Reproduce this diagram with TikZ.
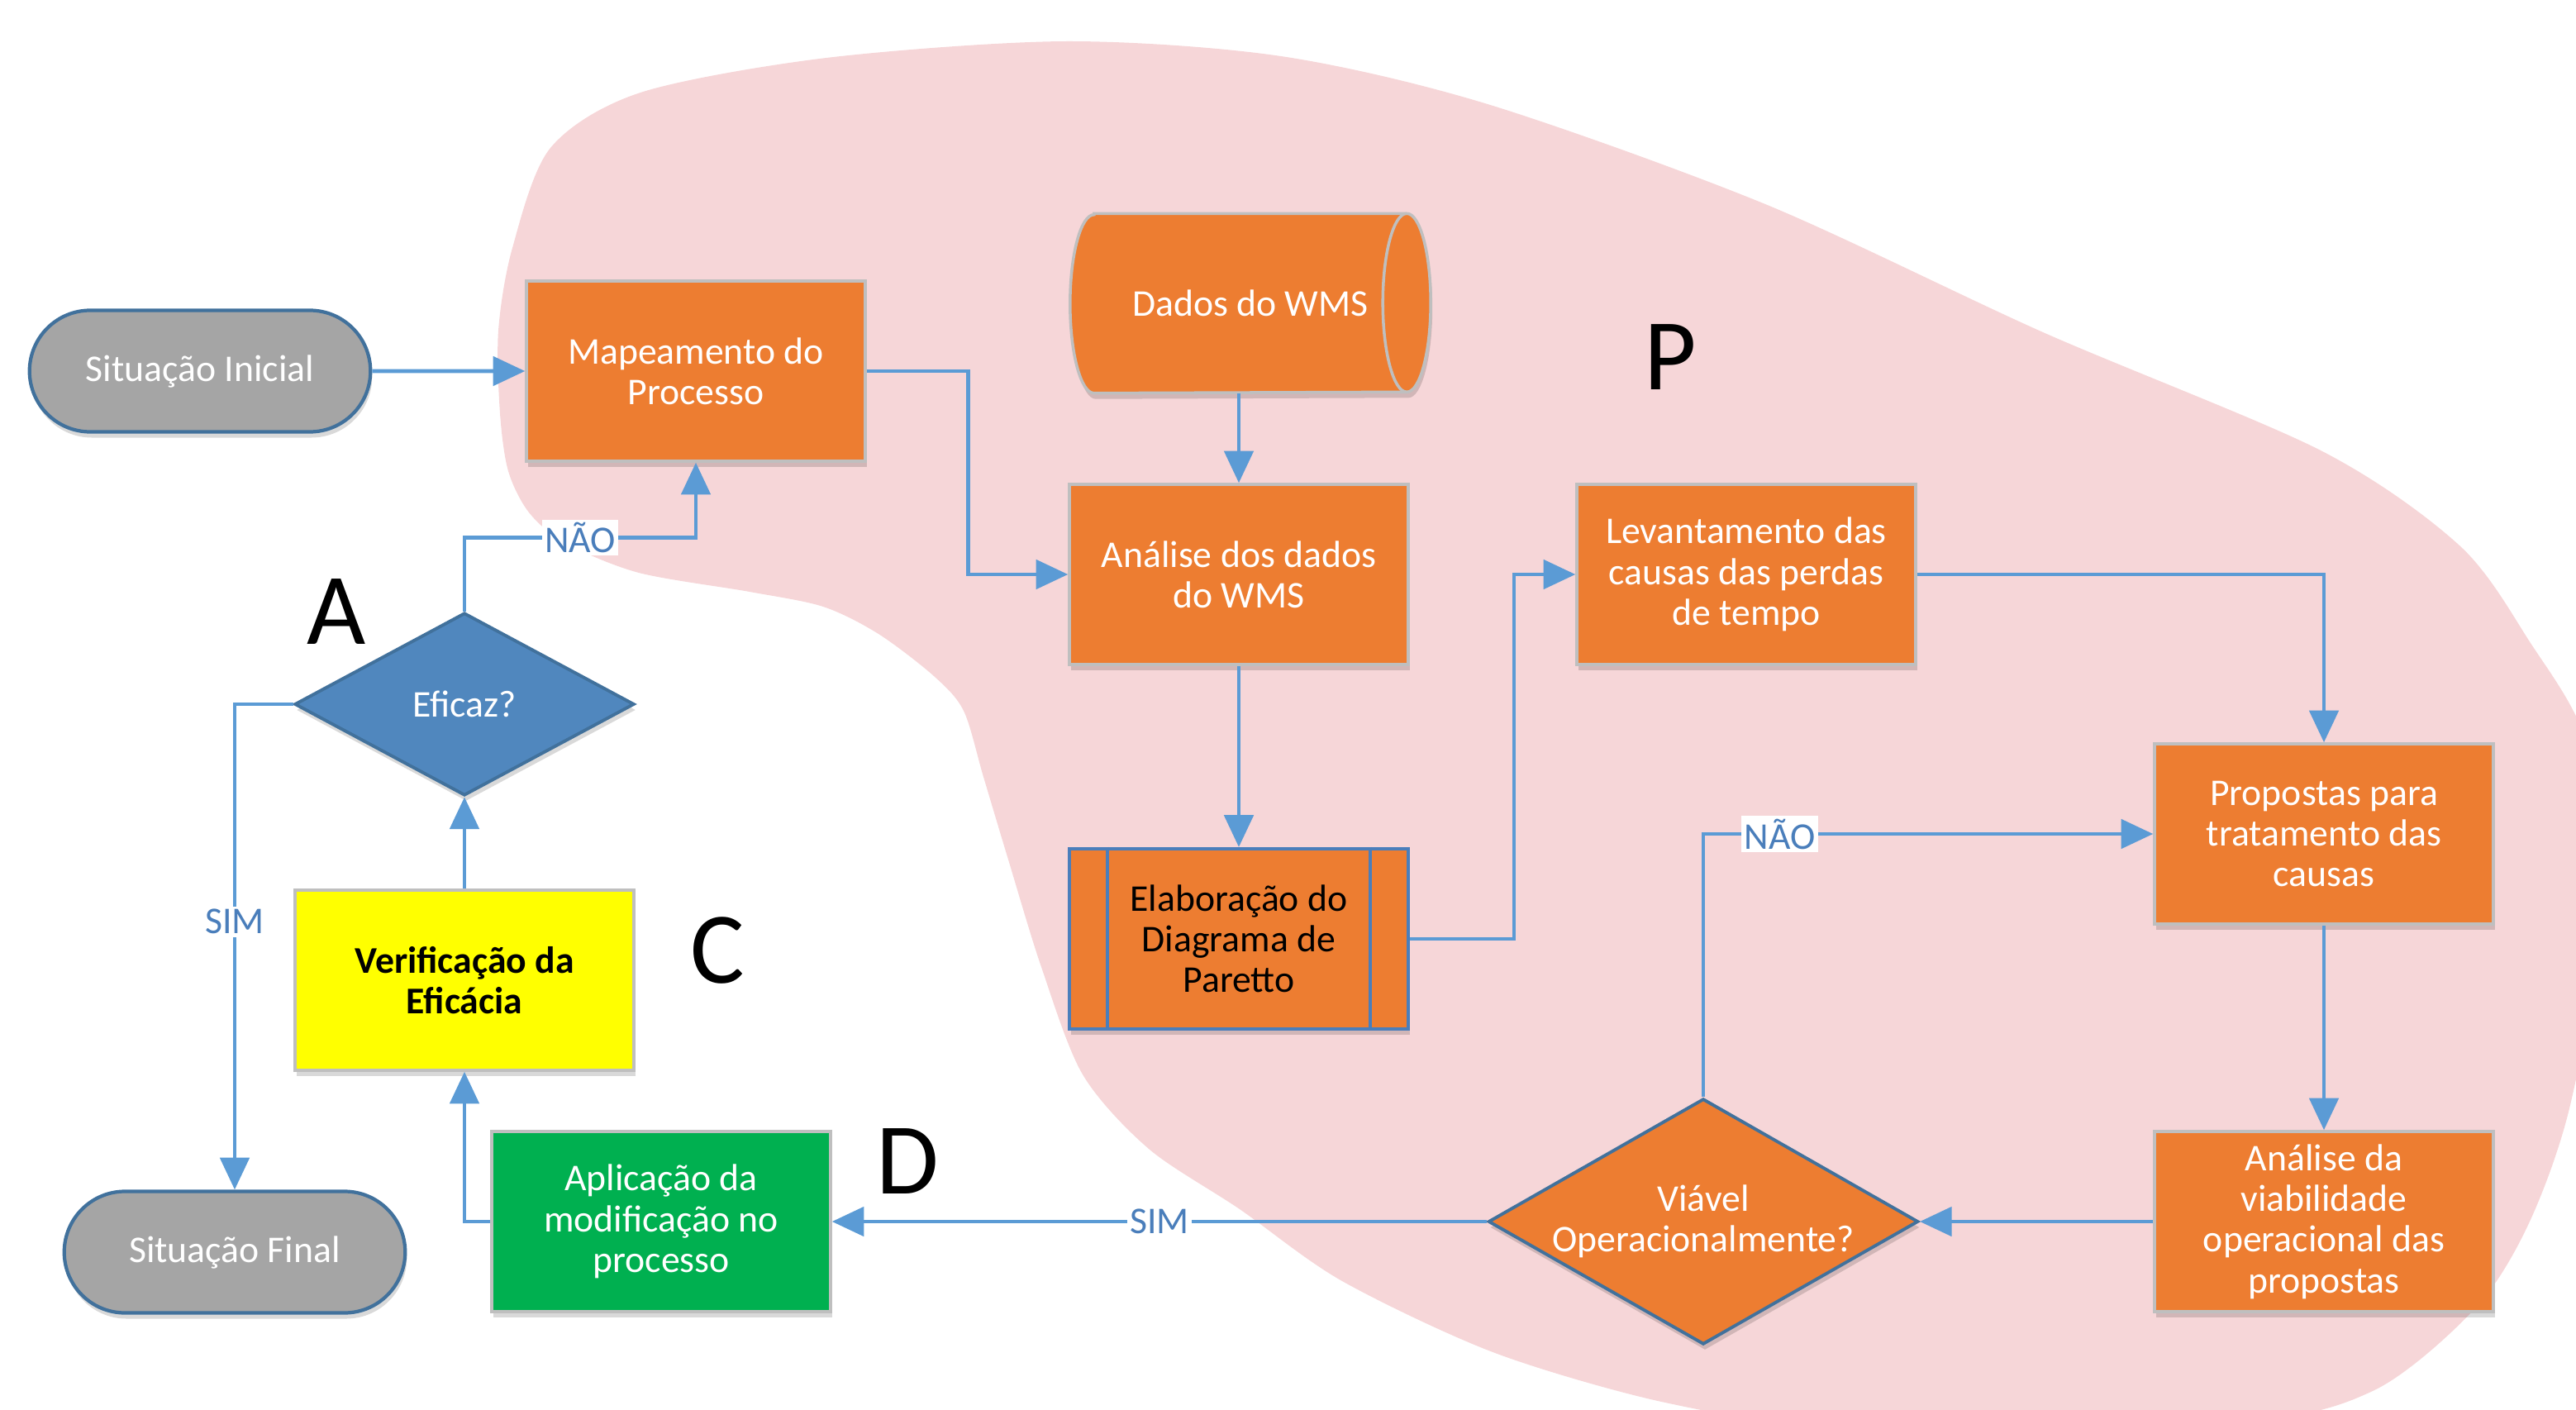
\documentclass[tikz,border=0pt]{standalone}
\usepackage{fontspec}
\setmainfont{Carlito}
\usepackage{xcolor}
\usetikzlibrary{positioning, arrows.meta, shapes.geometric, shapes.misc, shadows}

\definecolor{blobpink}{HTML}{F6D6D8}
\definecolor{boxorange}{HTML}{ED7D31}
\definecolor{boxgray}{HTML}{BFBFBF}
\definecolor{termgray}{HTML}{A5A5A5}
\definecolor{darkblue}{HTML}{41719C}
\definecolor{flowblue}{HTML}{5B9BD5}
\definecolor{textblue}{HTML}{4A7EBB}
\definecolor{diamondblue}{HTML}{5087BE}
\definecolor{boxgreen}{HTML}{00B050}
\definecolor{boxyellow}{HTML}{FFFF00}

\newcommand{\bodyfont}{\fontsize{13pt}{14pt}\selectfont}
\newcommand{\phasefont}{\fontsize{35pt}{38pt}\selectfont}

\begin{document}
\begin{tikzpicture}[
        % Define styles for consistency
        softshadow/.style={drop shadow={shadow xshift=0.02cm, shadow yshift=-0.07cm, opacity=0.15, fill=black}},
        box/.style={rectangle, fill=boxorange, draw=boxgray, line width=1pt, minimum width=4.1cm, minimum height=2.18cm, inner sep=2pt, align=center, text=white, font=\bodyfont, softshadow},
        storage/.style={rectangle, minimum width=3.77cm, minimum height=2.16cm, text=white, font=\bodyfont},
        storageline/.style={draw=boxgray, line width=1pt},
        term/.style={rounded rectangle, fill=termgray, draw=darkblue, line width=1.2pt, minimum width=4.36cm, minimum height=1.47cm, text=white, font=\bodyfont, softshadow},
        decision/.style={diamond, draw=darkblue, line width=1.1pt, inner sep=0pt, align=center, text=white, font=\bodyfont, softshadow},
        flow/.style={flowblue, line width=1.3pt, -{Triangle[length=11pt, width=10pt]}},
        answer/.style={fill=white, text=textblue, inner sep=1pt, font=\bodyfont},
        phaseletter/.style={font=\phasefont, text=black}
    ]

        \useasboundingbox (0,0) rectangle (31.17,-17.06);

        % --- Background region (P) ---
        \begin{scope}
            \clip (0,0) rectangle (31.17,-17.06);
            \fill[blobpink] plot[smooth cycle] coordinates {
                (12.90,-0.50) (10.00,-0.70) (7.75,-1.12) (6.66,-1.79) (6.20,-3.00)
                (6.03,-4.00) (6.05,-5.00) (6.15,-5.70) (6.40,-6.20) (6.84,-6.57)
                (7.73,-6.93) (9.07,-7.16) (9.96,-7.34) (10.63,-7.67) (11.30,-8.18)
                (11.66,-8.60) (11.90,-9.40) (12.20,-10.40) (12.60,-11.70) (13.10,-13.00)
                (13.90,-13.90) (15.00,-14.63) (16.24,-15.50) (18.09,-16.37) (20.15,-16.97)
                (22.00,-17.20) (27.00,-17.20) (28.71,-16.83) (29.95,-15.83) (30.60,-14.80)
                (31.10,-13.37) (31.50,-11.00) (31.30,-9.00) (30.60,-7.75) (29.76,-6.60)
                (28.08,-5.45) (24.72,-4.02) (21.36,-2.47) (18.00,-1.26) (15.50,-0.68)};
        \end{scope}

        % --- Nodes ---
        \node[term] (inicial) at (2.42,-4.49) {Situação Inicial};
        \node[box] (mapeamento) at (8.42,-4.49) {Mapeamento do\\Processo};
        \node[storage] (dados) at (15.13,-3.67) {};
        \node[box] (analise) at (14.99,-6.95) {Análise dos dados\\do WMS};
        \node[box, draw=textblue, line width=1.2pt, text=black] (paretto) at (14.99,-11.36) {Elaboração do\\Diagrama de\\Paretto};
        \node[box] (levantamento) at (21.13,-6.95) {Levantamento das\\causas das perdas\\de tempo};
        \node[box] (propostas) at (28.12,-10.09) {Propostas para\\tratamento das\\causas};
        \node[box] (viabilidade) at (28.12,-14.78) {Análise da\\viabilidade\\operacional das\\propostas};
        \node[decision, fill=boxorange, aspect=1.75, minimum width=5.15cm, minimum height=2.95cm] (viavel) at (20.61,-14.78) {Viável\\Operacionalmente?};
        \node[box, fill=boxgreen] (aplicacao) at (8.00,-14.78) {Aplicação da\\modificação no\\processo};
        \node[box, fill=boxyellow, text=black, font=\bodyfont\bfseries] (verificacao) at (5.62,-11.86) {Verificação da\\Eficácia};
        \node[decision, fill=diamondblue, aspect=1.86, minimum width=4.11cm, minimum height=2.21cm] (eficaz) at (5.62,-8.52) {Eficaz?};
        \node[term] (final) at (2.84,-15.15) {Situação Final};

        % Stored data drum
        \filldraw[storageline, fill=boxorange, softshadow] (dados.north west) -- (dados.north east)
            arc[start angle=90, end angle=-90, x radius=0.29, y radius=1.08]
            -- (dados.south west)
            arc[start angle=270, end angle=90, x radius=0.29, y radius=1.08] -- cycle;
        \draw[storageline] (dados.north east) arc[start angle=90, end angle=270, x radius=0.29, y radius=1.08];
        \node[storage] (dadostext) at (dados) {Dados do WMS};

        % Paretto side bars
        \draw[textblue, line width=1.2pt] ([xshift=0.48cm]paretto.north west) -- ([xshift=0.48cm]paretto.south west);
        \draw[textblue, line width=1.2pt] ([xshift=-0.48cm]paretto.north east) -- ([xshift=-0.48cm]paretto.south east);

        % --- Phase letters ---
        \node[phaseletter] (letterA) at (4.07,-7.40) {A};
        \node[phaseletter] (letterC) at (8.68,-11.50) {C};
        \node[phaseletter] (letterD) at (10.98,-14.05) {D};
        \node[phaseletter] (letterP) at (20.21,-4.32) {P};

        % --- Connectors ---
        \draw[flow] (inicial) -- (mapeamento);
        \draw[flow] (mapeamento.east) -- ++(1.23,0) |- (analise.west);
        \draw[flow] (dados.south -| analise.north) -- (analise.north);
        \draw[flow] (analise) -- (paretto);
        \draw[flow] (paretto.east) -- ++(1.26,0) |- (levantamento.west);
        \draw[flow] (levantamento.east) -| (propostas.north);
        \draw[flow] (propostas) -- (viabilidade);
        \draw[flow] (viabilidade) -- (viavel);
        \draw[flow] (viavel.north) |- node[answer, pos=0.585] {NÃO} (propostas.west);
        \draw[flow] (viavel) -- node[answer] {SIM} (aplicacao);
        \draw[flow] (aplicacao.west) -| (verificacao.south);
        \draw[flow] (verificacao) -- (eficaz);
        \draw[flow] (eficaz.north) -- ++(0,0.89) -| node[answer, pos=0.25] {NÃO} (mapeamento.south);
        \draw[flow] (eficaz.west) -| node[answer, pos=0.724] {SIM} (final.north);

\end{tikzpicture}
\end{document}
